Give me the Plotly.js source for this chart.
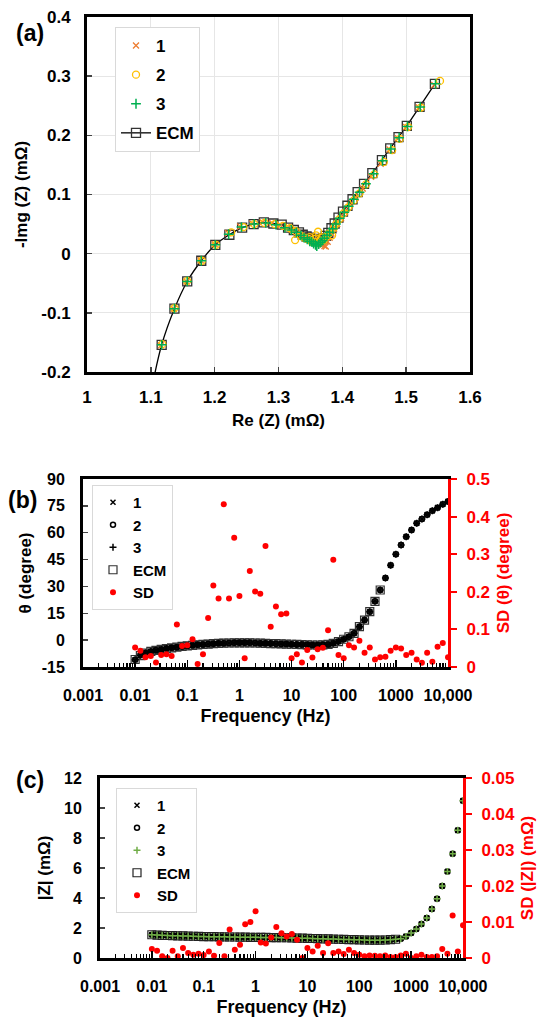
<!DOCTYPE html>
<html>
<head>
<meta charset="utf-8">
<script src="https://cdn.plot.ly/plotly-3.0.1.min.js"></script>
<style>html,body{margin:0;padding:0;background:#fff;}#chart{width:550px;height:1029px;}</style>
</head>
<body>
<div id="chart"></div>
<script>
// ---------- Panel (a): Nyquist ----------
const ecmRe = [1.100, 1.117, 1.137, 1.157, 1.179, 1.201, 1.223, 1.243, 1.261, 1.277, 1.292, 1.305, 1.315, 1.324, 1.332, 1.338, 1.344, 1.349, 1.354, 1.358, 1.362, 1.366, 1.370, 1.374, 1.378, 1.383, 1.388, 1.394, 1.401, 1.408, 1.416, 1.424, 1.434, 1.447, 1.462, 1.475, 1.488, 1.501, 1.521, 1.545];
const ecmIm = [-0.236, -0.154, -0.093, -0.047, -0.012, 0.015, 0.032, 0.044, 0.050, 0.053, 0.051, 0.049, 0.044, 0.040, 0.036, 0.032, 0.029, 0.027, 0.025, 0.024, 0.024, 0.024, 0.026, 0.030, 0.035, 0.043, 0.051, 0.061, 0.071, 0.081, 0.092, 0.104, 0.118, 0.136, 0.158, 0.178, 0.197, 0.216, 0.248, 0.287];
const re1 = [1.116, 1.136, 1.156, 1.178, 1.200, 1.221, 1.240, 1.259, 1.275, 1.290, 1.303, 1.314, 1.322, 1.330, 1.336, 1.341, 1.346, 1.350, 1.354, 1.357, 1.360, 1.363, 1.366, 1.369, 1.372, 1.374, 1.377, 1.380, 1.383, 1.387, 1.392, 1.398, 1.404, 1.412, 1.421, 1.432, 1.445, 1.460, 1.474, 1.487, 1.500, 1.520, 1.544];
const im1 = [-0.155, -0.093, -0.047, -0.011, 0.016, 0.035, 0.046, 0.051, 0.053, 0.052, 0.048, 0.043, 0.040, 0.035, 0.031, 0.028, 0.026, 0.024, 0.022, 0.020, 0.019, 0.018, 0.016, 0.015, 0.013, 0.012, 0.020, 0.027, 0.034, 0.042, 0.050, 0.060, 0.070, 0.082, 0.095, 0.110, 0.130, 0.152, 0.176, 0.195, 0.214, 0.247, 0.285];
const re2 = [1.118, 1.137, 1.157, 1.180, 1.202, 1.226, 1.245, 1.262, 1.278, 1.294, 1.307, 1.318, 1.327, 1.326, 1.335, 1.340, 1.345, 1.349, 1.352, 1.356, 1.359, 1.362, 1.365, 1.368, 1.371, 1.375, 1.379, 1.384, 1.387, 1.390, 1.395, 1.402, 1.409, 1.418, 1.427, 1.437, 1.450, 1.465, 1.478, 1.490, 1.503, 1.523, 1.553];
const im2 = [-0.153, -0.092, -0.046, -0.012, 0.015, 0.036, 0.045, 0.050, 0.052, 0.050, 0.047, 0.043, 0.038, 0.023, 0.030, 0.027, 0.025, 0.028, 0.020, 0.025, 0.031, 0.037, 0.022, 0.027, 0.023, 0.029, 0.034, 0.031, 0.044, 0.050, 0.058, 0.068, 0.078, 0.090, 0.102, 0.117, 0.134, 0.155, 0.175, 0.194, 0.214, 0.247, 0.292];
const re3 = [1.117, 1.137, 1.157, 1.179, 1.201, 1.222, 1.242, 1.262, 1.280, 1.296, 1.310, 1.320, 1.328, 1.335, 1.340, 1.345, 1.349, 1.352, 1.355, 1.358, 1.360, 1.363, 1.366, 1.369, 1.372, 1.376, 1.380, 1.385, 1.390, 1.396, 1.403, 1.410, 1.418, 1.427, 1.437, 1.449, 1.463, 1.476, 1.489, 1.502, 1.522, 1.546];
const im3 = [-0.154, -0.093, -0.047, -0.012, 0.015, 0.033, 0.045, 0.050, 0.052, 0.049, 0.044, 0.040, 0.036, 0.031, 0.027, 0.024, 0.021, 0.020, 0.017, 0.015, 0.013, 0.016, 0.019, 0.022, 0.026, 0.031, 0.036, 0.042, 0.050, 0.060, 0.070, 0.080, 0.092, 0.104, 0.118, 0.135, 0.157, 0.177, 0.196, 0.215, 0.248, 0.287];
const aXTicks = [1, 1.1, 1.2, 1.3, 1.4, 1.5, 1.6];
const aXText = ["1", "1.1", "1.2", "1.3", "1.4", "1.5", "1.6"];
const aYTicks = [-0.2, -0.1, 0, 0.1, 0.2, 0.3, 0.4];
const aYText = ["-0.2", "-0.1", "0", "0.1", "0.2", "0.3", "0.4"];

// ---------- Panels (b), (c): Bode ----------
const freq = [0.01, 0.0126, 0.0158, 0.02, 0.0251, 0.0316, 0.0398, 0.0501, 0.0631, 0.0794,
  0.1, 0.126, 0.158, 0.2, 0.251, 0.316, 0.398, 0.501, 0.631, 0.794,
  1, 1.26, 1.58, 2, 2.51, 3.16, 3.98, 5.01, 6.31, 7.94,
  10, 12.6, 15.8, 20, 25.1, 31.6, 39.8, 50.1, 63.1, 79.4,
  100, 126, 158, 200, 251, 316, 398, 501, 631, 794,
  1000, 1260, 1580, 2000, 2510, 3160, 3980, 5010, 6310, 7940, 10000];
const thetaMeas = [-11, -8.5, -7.2, -6.3, -5.7, -5.2, -4.7, -4.3, -3.9, -3.5,
  -3.2, -2.9, -2.6, -2.4, -2.2, -2.0, -1.8, -1.7, -1.6, -1.5,
  -1.5, -1.5, -1.5, -1.6, -1.7, -1.8, -1.9, -2.0, -2.1, -2.2,
  -2.3, -2.4, -2.5, -2.6, -2.7, -2.7, -2.6, -2.4, -1.8, -0.8,
  0.5, 1.9, 3.8, 7.5, 11.2, 15.9, 21.7, 28, 34.7, 41.8,
  48, 53.1, 57.8, 61.5, 65.3, 67.7, 70.1, 72.3, 74, 75.9, 77.5];
const thetaEcm = [-10.8, -8.6, -7.2, -6.3, -5.7, -5.2, -4.7, -4.3, -3.9, -3.5,
  -3.2, -2.9, -2.6, -2.4, -2.2, -2.0, -1.8, -1.7, -1.6, -1.5,
  -1.5, -1.5, -1.5, -1.6, -1.7, -1.8, -1.9, -2.0, -2.1, -2.2,
  -2.3, -2.4, -2.5, -2.6, -2.7, -2.7, -2.6, -2.4, -1.8, -0.8,
  0.5, 1.9, 3.8, 7.5, 11.2, 15.9, 21.7, 28];
const sdTheta = [0.052, 0.043, 0.026, 0.029, 0.012, 0.032, 0.034, 0.029, 0.113, 0.056,
  0.058, 0.074, 0.008, 0.034, 0.130, 0.217, 0.182, 0.433, 0.182, 0.344,
  0.189, 0.023, 0.255, 0.201, 0.195, 0.322, 0.107, 0.161, 0.140, 0.142,
  0.023, 0.034, 0.012, 0.045, 0.025, 0.047, 0.051, 0.098, 0.285, 0.032,
  0.023, 0.058, 0.052, 0.070, 0.038, 0.052, 0.020, 0.026, 0.027, 0.043,
  0.052, 0.049, 0.032, 0.038, 0.020, 0.011, 0.038, 0.014, 0.054, 0.064, 0.026];
const zMeas = [1.55, 1.53, 1.51, 1.50, 1.49, 1.48, 1.47, 1.46, 1.45, 1.44,
  1.43, 1.42, 1.42, 1.41, 1.41, 1.40, 1.40, 1.39, 1.39, 1.38,
  1.38, 1.37, 1.37, 1.36, 1.36, 1.35, 1.35, 1.34, 1.33, 1.32,
  1.31, 1.30, 1.29, 1.28, 1.27, 1.26, 1.25, 1.24, 1.23, 1.22,
  1.21, 1.20, 1.19, 1.19, 1.19, 1.20, 1.22, 1.25, 1.29, 1.44,
  1.67, 1.93, 2.27, 2.67, 3.27, 3.95, 4.80, 5.77, 6.95, 8.51, 10.49];
const zEcm = [1.55, 1.53, 1.51, 1.50, 1.49, 1.48, 1.47, 1.46, 1.45, 1.44,
  1.43, 1.42, 1.42, 1.41, 1.41, 1.40, 1.40, 1.39, 1.39, 1.38,
  1.38, 1.37, 1.37, 1.36, 1.36, 1.35, 1.35, 1.34, 1.33, 1.32,
  1.31, 1.30, 1.29, 1.28, 1.27, 1.26, 1.25, 1.24, 1.23, 1.22,
  1.21, 1.20, 1.19, 1.19, 1.19, 1.20, 1.22, 1.25];
const sdZ = [0.0025, 0.0020, 0.0005, 0.0000, 0.0020, 0.0005, 0.0028, 0.0014, 0.0009, 0.0012,
  0.0008, 0.0018, 0.0006, 0.0042, 0.0005, 0.0079, 0.0023, 0.0037, 0.0094, 0.0100,
  0.0130, 0.0043, 0.0040, 0.0057, 0.0086, 0.0069, 0.0060, 0.0067, 0.0051, 0.0000,
  0.0028, 0.0018, 0.0034, 0.0014, 0.0041, 0.0014, 0.0018, 0.0011, 0.0023, 0.0014,
  0.0009, 0.0005, 0.0007, 0.0006, 0.0005, 0.0007, 0.0003, 0.0003, 0.0007, 0.0012,
  0.0000, 0.0005, 0.0009, 0.0003, 0.0003, 0.0005, 0.0025, 0.0012, 0.0118, 0.0018, 0.0091];
const fTicks = [0.001, 0.01, 0.1, 1, 10, 100, 1000, 10000];
const fText = ["0.001", "0.01", "0.1", "1", "10", "100", "1000", "10,000"];
const bYTicks = [-15, 0, 15, 30, 45, 60, 75, 90];
const bYText = ["-15", "0", "15", "30", "45", "60", "75", "90"];

// ---------- styling ----------
const FONT = "Liberation Sans, Arial, sans-serif";
const W = 550, H = 1029;
const px = v => v / W, py = v => 1 - v / H;
const RED = "#FF0000";
const bold = (size, color) => ({family: FONT, size: size, color: color || "#000", weight: "bold"});

const minorVals = [];
for (let e = -3; e < 4; e++) for (let k = 2; k <= 9; k++) minorVals.push(k * Math.pow(10, e));

const traces = [
  // (a)
  {x: ecmRe, y: ecmIm, name: "ECM", mode: "lines+markers", xaxis: "x", yaxis: "y", legend: "legend", legendgroup: "a4", legendrank: 4,
   line: {color: "#000", width: 1.3, shape: "spline"},
   marker: {symbol: "square-open", size: 9, color: "#333", line: {width: 1.3}}},
  {x: re1, y: im1, name: "1", mode: "markers", xaxis: "x", yaxis: "y", legend: "legend", legendgroup: "a1", legendrank: 1,
   marker: {symbol: "x-thin", size: 6, line: {color: "#ED7D31", width: 1.3}, color: "#ED7D31"}},
  {x: re2, y: im2, name: "2", mode: "markers", xaxis: "x", yaxis: "y", legend: "legend", legendgroup: "a2", legendrank: 2,
   marker: {symbol: "circle-open", size: 7, color: "#FFC000", line: {width: 1.3}}},
  {x: re3, y: im3, name: "3", mode: "markers", xaxis: "x", yaxis: "y", legend: "legend", legendgroup: "a3", legendrank: 3,
   marker: {symbol: "cross-thin", size: 7, line: {color: "#00B050", width: 1.5}, color: "#00B050"}},
  // (b)
  {x: freq.slice(0, thetaEcm.length), y: thetaEcm, name: "ECM", mode: "markers", xaxis: "x2", yaxis: "y2", legend: "legend2", legendrank: 4,
   marker: {symbol: "square-open", size: 8, color: "#333", line: {width: 1.2}}},
  {x: freq, y: thetaMeas, name: "1", mode: "markers", xaxis: "x2", yaxis: "y2", legend: "legend2", legendrank: 1,
   marker: {symbol: "x-thin", size: 5, color: "#000", line: {color: "#000", width: 1.5}}},
  {x: freq, y: thetaMeas, name: "2", mode: "markers", xaxis: "x2", yaxis: "y2", legend: "legend2", legendrank: 2,
   marker: {symbol: "circle-open", size: 5, color: "#000", line: {width: 1.5}}},
  {x: freq, y: thetaMeas, name: "3", mode: "markers", xaxis: "x2", yaxis: "y2", legend: "legend2", legendrank: 3,
   marker: {symbol: "cross-thin", size: 5, color: "#000", line: {color: "#000", width: 1.5}}},
  {x: freq, y: sdTheta, name: "SD", mode: "markers", xaxis: "x2", yaxis: "y3", legend: "legend2", legendrank: 5,
   marker: {symbol: "circle", size: 6, color: RED}},
  // (c)
  {x: freq.slice(0, zEcm.length), y: zEcm, name: "ECM", mode: "markers", xaxis: "x3", yaxis: "y4", legend: "legend3", legendrank: 4,
   marker: {symbol: "square-open", size: 8, color: "#222", line: {width: 1.2}}},
  {x: freq, y: zMeas, name: "1", mode: "markers", xaxis: "x3", yaxis: "y4", legend: "legend3", legendrank: 1,
   marker: {symbol: "x-thin", size: 5, color: "#000", line: {color: "#000", width: 1.5}}},
  {x: freq, y: zMeas, name: "2", mode: "markers", xaxis: "x3", yaxis: "y4", legend: "legend3", legendrank: 2,
   marker: {symbol: "circle-open", size: 5, color: "#000", line: {width: 1.5}}},
  {x: freq, y: zMeas, name: "3", mode: "markers", xaxis: "x3", yaxis: "y4", legend: "legend3", legendrank: 3,
   marker: {symbol: "cross-thin", size: 5, color: "#70AD47", line: {color: "#70AD47", width: 1.5}}},
  {x: freq, y: sdZ, name: "SD", mode: "markers", xaxis: "x3", yaxis: "y5", legend: "legend3", legendrank: 5,
   marker: {symbol: "circle", size: 6, color: RED}}
];

const logX = (domain, anchor) => ({
  type: "log", domain: domain, anchor: anchor, range: [-3, 4],
  tickmode: "array", tickvals: fTicks, ticktext: fText,
  ticks: "inside", ticklen: 7, tickwidth: 1.5, tickcolor: "#000",
  minor: {tickmode: "array", tickvals: minorVals, ticks: "inside", ticklen: 4, tickwidth: 1.2, tickcolor: "#000", showgrid: false},
  showline: true, linecolor: "#000", linewidth: 3, mirror: true,
  showgrid: false, zeroline: false,
  tickfont: bold(16), ticklabelstandoff: 12,
  title: {text: "Frequency (Hz)", font: bold(18), standoff: 7}
});

const legendBase = (x, y, size, gap) => ({
  x: x, y: y, xanchor: "left", yanchor: "top",
  bgcolor: "#fff", bordercolor: "#d9d9d9", borderwidth: 1,
  font: bold(size), traceorder: "grouped", tracegroupgap: gap, itemwidth: 30
});

const layout = {
  width: W, height: H, margin: {l: 0, r: 0, t: 0, b: 0},
  paper_bgcolor: "#fff", plot_bgcolor: "#fff", showlegend: true,
  font: {family: FONT, color: "#000"},
  // (a)
  xaxis: {domain: [px(87), px(470)], anchor: "y", range: [1, 1.6],
    tickmode: "array", tickvals: aXTicks, ticktext: aXText,
    showgrid: true, gridcolor: "#e6e6e6", gridwidth: 1, zeroline: false,
    showline: true, linecolor: "#000", linewidth: 3, mirror: true,
    ticks: "inside", ticklen: 5, tickwidth: 1.5,
    tickfont: bold(17), ticklabelstandoff: 8,
    title: {text: "Re (Z) (mΩ)", font: bold(17), standoff: 8}},
  yaxis: {domain: [py(372), py(17)], anchor: "x", range: [-0.2, 0.4],
    tickmode: "array", tickvals: aYTicks, ticktext: aYText,
    showgrid: true, gridcolor: "#e6e6e6", gridwidth: 1, zeroline: false,
    showline: true, linecolor: "#000", linewidth: 3, mirror: true,
    ticks: "inside", ticklen: 5, tickwidth: 1.5,
    tickfont: bold(17), ticklabelstandoff: 10,
    title: {text: "-Img (Z) (mΩ)", font: bold(17), standoff: 10}},
  // (b)
  xaxis2: logX([px(83), px(448)], "y2"),
  yaxis2: {domain: [py(667), py(479)], anchor: "x2", range: [-15, 90],
    tickmode: "array", tickvals: bYTicks, ticktext: bYText,
    showgrid: false, zeroline: false,
    showline: true, linecolor: "#000", linewidth: 3,
    ticks: "inside", ticklen: 5, tickwidth: 1.5,
    tickfont: bold(16), ticklabelstandoff: 12,
    title: {text: "θ (degree)", font: bold(17), standoff: 6}},
  yaxis3: {overlaying: "y2", anchor: "x2", side: "right", range: [0, 0.5], dtick: 0.1,
    showgrid: false, zeroline: false,
    showline: true, linecolor: RED, linewidth: 3,
    ticks: "outside", ticklen: 6, tickwidth: 2, tickcolor: RED,
    tickfont: bold(17, RED), ticklabelstandoff: 6,
    title: {text: "SD (θ) (degree)", font: bold(17, RED), standoff: 8}},
  // (c)
  xaxis3: logX([px(100), px(463)], "y4"),
  yaxis4: {domain: [py(958), py(778)], anchor: "x3", range: [0, 12], dtick: 2,
    showgrid: false, zeroline: false,
    showline: true, linecolor: "#000", linewidth: 3,
    ticks: "inside", ticklen: 5, tickwidth: 1.5,
    tickfont: bold(16), ticklabelstandoff: 12,
    title: {text: "|Z| (mΩ)", font: bold(17), standoff: 10}},
  yaxis5: {overlaying: "y4", anchor: "x3", side: "right", range: [0, 0.05], dtick: 0.01,
    showgrid: false, zeroline: false,
    showline: true, linecolor: RED, linewidth: 3,
    ticks: "outside", ticklen: 6, tickwidth: 2, tickcolor: RED,
    tickfont: bold(17, RED), ticklabelstandoff: 6,
    title: {text: "SD (|Z|) (mΩ)", font: bold(17, RED), standoff: 8}},
  legend: legendBase(px(115), py(27), 17, 4),
  legend2: legendBase(px(92), py(485), 15, 0),
  legend3: legendBase(px(116), py(788), 15, 0),
  annotations: [
    {text: "(a)", x: px(30), y: py(33), xref: "paper", yref: "paper", xanchor: "center", yanchor: "middle", showarrow: false, font: bold(23)},
    {text: "(b)", x: px(22), y: py(500), xref: "paper", yref: "paper", xanchor: "center", yanchor: "middle", showarrow: false, font: bold(23)},
    {text: "(c)", x: px(30), y: py(780), xref: "paper", yref: "paper", xanchor: "center", yanchor: "middle", showarrow: false, font: bold(23)}
  ]
};

Plotly.newPlot("chart", traces, layout, {displayModeBar: false, staticPlot: true});
</script>
</body>
</html>
